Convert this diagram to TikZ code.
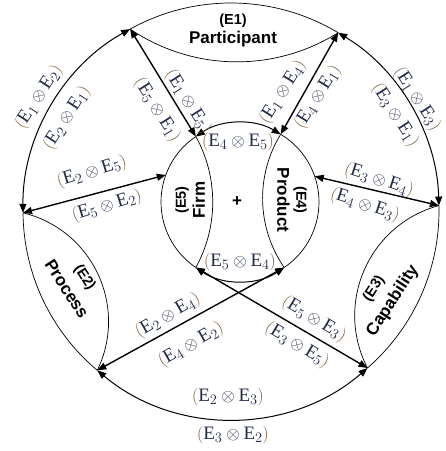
\documentclass[tikz,border=0pt]{standalone}
\usepackage{fontspec}
\setmainfont{Liberation Serif}
\newfontfamily\hv{Liberation Sans}
\usetikzlibrary{arrows.meta,calc}
\definecolor{labc}{RGB}{35,42,72}
\definecolor{parc}{RGB}{115,80,45}
\newcommand{\lab}[2]{$\textcolor{parc}{\bigl(}\mathrm{E}_{#1}\otimes\mathrm{E}_{#2}\textcolor{parc}{\bigr)}$}
\newcommand{\esz}{\fontsize{14.5}{19}\selectfont}
\begin{document}
\begin{tikzpicture}[x=1pt,y=1pt,
  tip/.tip={Triangle[length=9pt,width=7pt]},
  conn/.style={line width=1.4pt,tip-tip},
  arcc/.style={line width=1pt,tip-tip},
  lens/.style={line width=0.7pt},
  lbl/.style={font=\fontsize{19}{22}\selectfont, text=labc, inner sep=1pt},
  lblw/.style={lbl, fill=white, fill opacity=0.85, text opacity=1},
  ename/.style={font=\hv\bfseries\fontsize{17}{19}\selectfont, align=center, inner sep=0pt},
  enamew/.style={ename, font=\hv\bfseries\fontsize{17}{23}\selectfont}
]
\useasboundingbox (0,0) rectangle (446,451);
\coordinate (O) at (231,240);
\coordinate (C) at (240,249);
% outer vertices
\coordinate (PL) at ($(O)+(119:208)$);
\coordinate (PR) at ($(O)+(59:208)$);
\coordinate (QT) at ($(O)+(180.5:208)$);
\coordinate (QB) at ($(O)+(230:208)$);
\coordinate (KT) at ($(O)+(1.5:208)$);
\coordinate (KB) at ($(O)+(311:208)$);
% inner vertices
\coordinate (TL) at ($(C)+(124:79)$);
\coordinate (TR) at ($(C)+(59:79)$);
\coordinate (BL) at ($(C)+(236:79)$);
\coordinate (BR) at ($(C)+(304:79)$);
\coordinate (I2) at ($(C)+(160:79)$);
\coordinate (I3) at ($(C)+(19:79)$);

% outer circle pieces
\draw[lens] (PR) arc[start angle=59,end angle=119,radius=208];
\draw[lens] (QT) arc[start angle=180.5,end angle=230,radius=208];
\draw[lens] (KB) arc[start angle=311,end angle=361.5,radius=208];
\draw[arcc] (PL) arc[start angle=119,end angle=180.5,radius=208];
\draw[arcc] (KT) arc[start angle=1.5,end angle=59,radius=208];
\draw[arcc] (QB) arc[start angle=230,end angle=311,radius=208];

% lens inner arcs
\draw[lens] (PL) to[bend right=33,looseness=0.93] (PR);
\draw[lens] (QT) to[bend left=51,looseness=1.05] (QB);
\draw[lens] (KT) to[bend right=51,looseness=1.05] (KB);

% inner circle
\draw[lens] (TL) arc[start angle=124,end angle=236,radius=79];
\draw[lens] (BR) arc[start angle=304,end angle=419,radius=79];
\draw[arcc] (TR) arc[start angle=59,end angle=124,radius=79];
\draw[arcc] (BL) arc[start angle=236,end angle=304,radius=79];
\draw[lens] (TL) to[bend left=29,looseness=0.91] (BL);
\draw[lens] (TR) to[bend right=33,looseness=0.93] (BR);

% straight connectors
\draw[conn] (PL) -- (TL);
\draw[conn] (PR) -- (TR);
\draw[conn] (QT) -- (I2);
\draw[conn] (KT) -- (I3);
\draw[conn] (QB) -- (BR);
\draw[conn] (KB) -- (BL);

% labels
\node[lbl,rotate=57] (l12) at (39,354) {\lab12};
\node[lbl,rotate=57] (l21) at (67,333) {\lab21};
\node[lbl,rotate=-57] (l13) at (417,352) {\lab13};
\node[lbl,rotate=-57] (l31) at (395,336) {\lab31};
\node[lbl,rotate=-58] (l15) at (188,349) {\lab15};
\node[lbl,rotate=-58] (l51) at (157,341) {\lab51};
\node[lbl,rotate=58] (l14) at (283,359) {\lab14};
\node[lbl,rotate=58] (l41) at (318,354) {\lab41};
\node[lbl,rotate=17] (l25) at (92,279) {\lab25};
\node[lbl,rotate=17] (l52) at (107,245) {\lab52};
\node[lbl,rotate=-18] (l34) at (379,271) {\lab34};
\node[lbl,rotate=-18] (l43) at (365,246) {\lab43};
\node[lbl] (l45) at (238,309) {\lab45};
\node[lbl] (l54) at (240,189) {\lab54};
\node[lblw,rotate=30] (l24) at (168,135) {\lab24};
\node[lblw,rotate=30] (l42) at (191,106) {\lab42};
\node[lblw,rotate=-31] (l53) at (314,132) {\lab53};
\node[lblw,rotate=-31] (l35) at (297,106) {\lab35};
\node[lbl] (l23) at (228,54) {\lab23};
\node[lbl] (l32) at (233,16) {\lab32};

% entity names
\node[ename] (e1) at (233,420) {{\esz (E1)}\\Participant};
\node[ename,rotate=90] (e5) at (190,251) {{\esz (E5)}\\Firm};
\node[ename,rotate=-90] (e4) at (292,251) {{\esz (E4)}\\Product};
\node[enamew,rotate=-57] (e2) at (76,168) {{\esz (E2)}\\Process};
\node[enamew,rotate=57] (e3) at (384,156) {{\esz (E3)}\\Capability};
\node[ename] (plus) at (237,249) {+};
\end{tikzpicture}
\end{document}
